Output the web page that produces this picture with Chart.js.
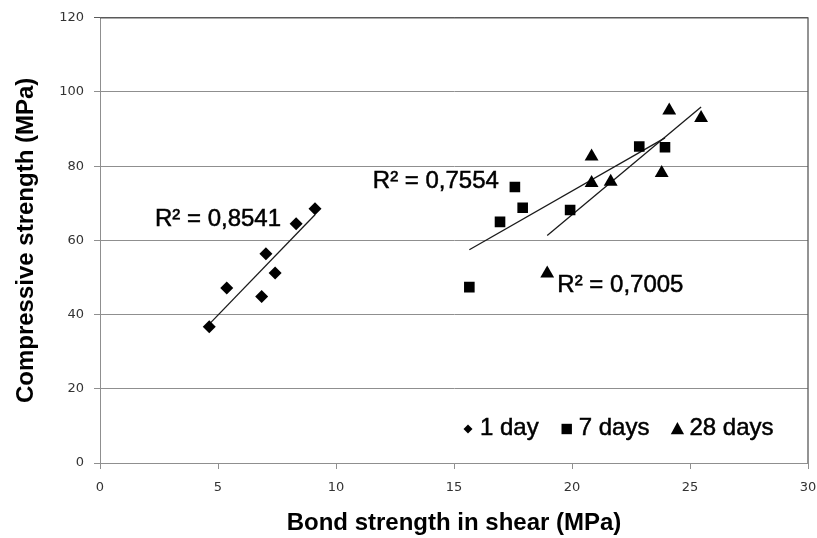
<!DOCTYPE html>
<html>
<head>
<meta charset="utf-8">
<script src="https://cdn.jsdelivr.net/npm/chart.js@4/dist/chart.umd.min.js"></script>
<style>
    html, body { margin: 0; padding: 0; background: #fff; }
    #wrap { width: 817px; height: 538px; position: relative; }
</style>
</head>
<body>
<div id="wrap"><canvas id="chart"></canvas></div>
<script>
// Values (MPa)
const day1X = [4.63, 5.37, 6.85, 7.03, 7.42, 8.31, 9.11];
const day1Y = [36.7, 47.2, 44.9, 56.4, 51.2, 64.5, 68.5];

const day7X = [15.65, 16.95, 17.58, 17.91, 19.92, 22.85, 23.94];
const day7Y = [47.4, 65.0, 74.4, 68.8, 68.2, 85.3, 85.1];

const day28X = [18.95, 20.83, 20.83, 21.64, 23.80, 24.12, 25.47];
const day28Y = [51.1, 82.6, 75.5, 75.8, 78.2, 95.0, 93.0];

const seriesLabels = ['1 day', '7 days', '28 days'];
const r2Texts = ['R\u00b2 = 0,8541', 'R\u00b2 = 0,7554', 'R\u00b2 = 0,7005'];

const xTickValues = [0, 5, 10, 15, 20, 25, 30];
const yTickValues = [0, 20, 40, 60, 80, 100, 120];

const FONT = '"Liberation Sans", Arial, sans-serif';

function points(xs, ys) {
    return xs.map((x, i) => ({ x, y: ys[i] }));
}

// least-squares line, drawn between the smallest and largest x of the series
function trend(xs, ys) {
    const n = xs.length;
    const mx = xs.reduce((a, b) => a + b, 0) / n;
    const my = ys.reduce((a, b) => a + b, 0) / n;
    let sxy = 0, sxx = 0;
    xs.forEach((x, i) => { sxy += (x - mx) * (ys[i] - my); sxx += (x - mx) * (x - mx); });
    const b = sxy / sxx, a = my - b * mx;
    const lo = Math.min(...xs), hi = Math.max(...xs);
    return [{ x: lo, y: a + b * lo }, { x: hi, y: a + b * hi }];
}

function markerPath(ctx, style, x, y, r) {
    ctx.beginPath();
    if (style === 'rectRot') {
        ctx.moveTo(x, y - r); ctx.lineTo(x + r, y); ctx.lineTo(x, y + r); ctx.lineTo(x - r, y);
    } else if (style === 'rect') {
        ctx.rect(x - r, y - r, 2 * r, 2 * r);
    } else {
        ctx.moveTo(x, y - r); ctx.lineTo(x + r * 0.95, y + r * 0.75); ctx.lineTo(x - r * 0.95, y + r * 0.75);
    }
    ctx.closePath();
    ctx.fill();
}

// slightly heavier text, like the ClearType rendering of the original
function heavyText(ctx, text, x, y) {
    ctx.fillText(text, x, y);
    ctx.strokeText(text, x, y);
}

// R² texts and the in-plot legend
const annotate = {
    id: 'annotate',
    afterDatasetsDraw(chart, args, opts) {
        const { ctx, chartArea, scales } = chart;
        ctx.save();
        ctx.fillStyle = '#000';
        ctx.strokeStyle = '#000';
        ctx.lineWidth = 0.5;
        ctx.textBaseline = 'middle';
        ctx.textAlign = 'left';
        ctx.font = '24px ' + FONT;
        opts.anchors.forEach((p, i) => {
            heavyText(ctx, r2Texts[i], scales.x.getPixelForValue(p[0]), scales.y.getPixelForValue(p[1]));
        });

        // legend
        let cx = opts.legendX;
        const ly = chartArea.bottom - 35;
        chart.data.datasets.filter(d => d.inLegend).forEach(d => {
            markerPath(ctx, d.pointStyle, cx + 6, ly + 1, d.legendR);
            heavyText(ctx, d.label, cx + 18, ly);
            cx += 18 + ctx.measureText(d.label).width + 22;
        });

        // dark top and right edge of the plot area
        ctx.strokeStyle = '#5a5a5a';
        ctx.lineWidth = 1.3;
        ctx.beginPath();
        ctx.moveTo(chartArea.left, chartArea.top);
        ctx.lineTo(chartArea.right, chartArea.top);
        ctx.lineTo(chartArea.right, chartArea.bottom);
        ctx.stroke();
        ctx.restore();
    }
};

const trendStyle = {
    type: 'line',
    showLine: true,
    borderColor: '#1a1a1a',
    borderWidth: 1.3,
    pointRadius: 0,
    fill: false
};

new Chart(document.getElementById('chart'), {
    type: 'scatter',
    data: {
        datasets: [
            { label: seriesLabels[0], data: points(day1X, day1Y), pointStyle: 'rectRot', pointRadius: 6.5,
              backgroundColor: '#000', borderColor: '#000', borderWidth: 0, inLegend: true, legendR: 4.5 },
            { label: seriesLabels[1], data: points(day7X, day7Y), pointStyle: 'rect', pointRadius: 7.5,
              backgroundColor: '#000', borderColor: '#000', borderWidth: 0, inLegend: true, legendR: 5.2 },
            { label: seriesLabels[2], data: points(day28X, day28Y), pointStyle: 'triangle', pointRadius: 8,
              backgroundColor: '#000', borderColor: '#000', borderWidth: 0, inLegend: true, legendR: 7 },
            { ...trendStyle, label: 'trend 1', data: trend(day1X, day1Y) },
            { ...trendStyle, label: 'trend 7', data: trend(day7X, day7Y) },
            { ...trendStyle, label: 'trend 28', data: trend(day28X, day28Y) }
        ]
    },
    options: {
        responsive: true,
        maintainAspectRatio: false,
        animation: false,
        layout: { padding: { left: 0, top: 17, right: 9, bottom: 0 } },
        plugins: {
            legend: { display: false },
            tooltip: { enabled: false },
            annotate: {
                anchors: [[2.33, 65.7], [11.56, 75.8], [19.38, 47.8]],
                legendX: 462
            }
        },
        scales: {
            x: {
                type: 'linear',
                min: 0, max: 30,
                afterBuildTicks: s => { s.ticks = xTickValues.map(v => ({ value: v })); },
                afterFit: s => { s.height = 75; s.paddingRight = 0; s.paddingLeft = 0; },
                grid: { drawOnChartArea: false, tickLength: 6, color: '#8f8f8f' },
                border: { color: '#8f8f8f', width: 1 },
                ticks: { padding: 11, color: '#333', font: { family: '"DejaVu Sans"', size: 13 } },
                title: {
                    display: true, text: 'Bond strength in shear (MPa)', color: '#000',
                    font: { family: FONT, size: 24, weight: 'bold', lineHeight: 1.2 },
                    padding: { top: 3, bottom: 0 }
                }
            },
            y: {
                type: 'linear',
                min: 0, max: 120,
                afterBuildTicks: s => { s.ticks = yTickValues.map(v => ({ value: v })); },
                afterFit: s => { s.width = 100; },
                grid: { tickLength: 6, color: c => (c.tick && c.tick.value === 120) ? '#5a5a5a' : '#8f8f8f' },
                border: { color: '#8f8f8f', width: 1 },
                ticks: { padding: 10, color: '#333', font: { family: '"DejaVu Sans"', size: 13 } },
                title: {
                    display: true, text: 'Compressive strength (MPa)', color: '#000',
                    font: { family: FONT, size: 24, weight: 'bold', lineHeight: 1.2 },
                    padding: { top: 12, bottom: 0 }
                }
            }
        }
    },
    plugins: [annotate]
});
</script>
</body>
</html>
